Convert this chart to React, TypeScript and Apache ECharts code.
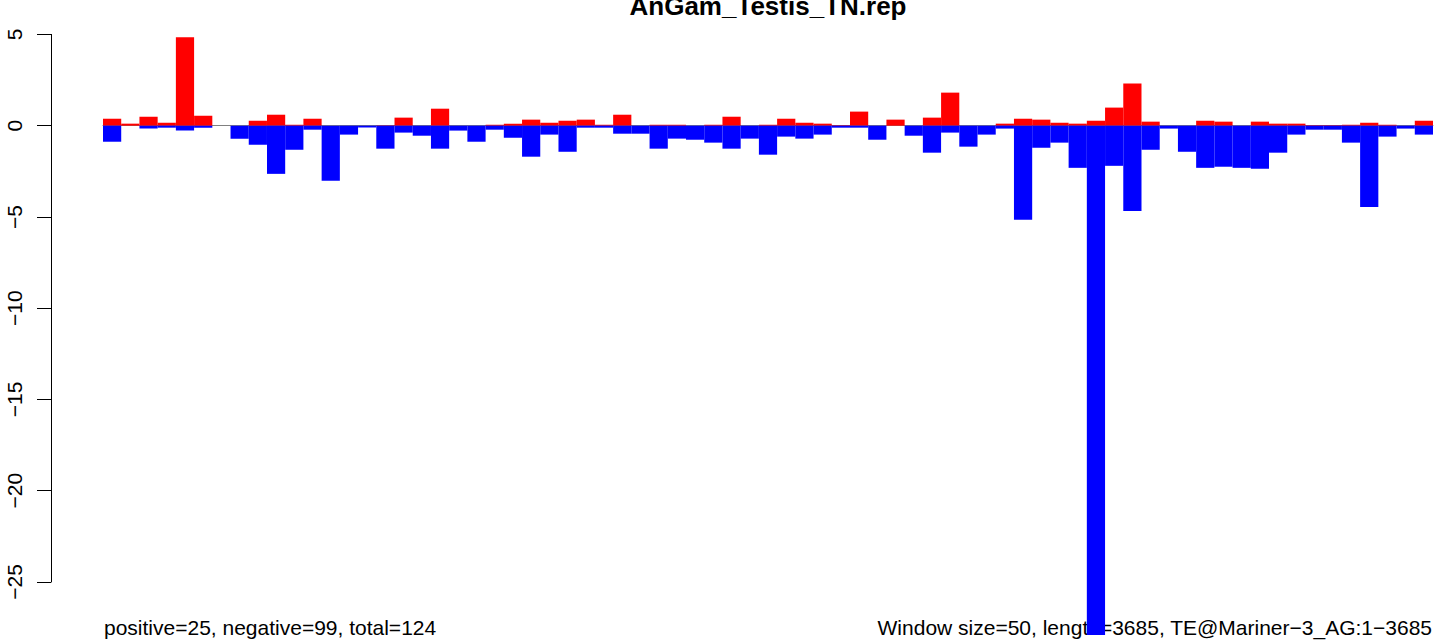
import React, { useEffect, useRef } from "react";
import * as echarts from "echarts";

const TITLE = "AnGam_Testis_TN.rep";
const FOOT_LEFT = "positive=25, negative=99, total=124";
const FOOT_RIGHT = "Window size=50, length=3685, TE@Mariner\u22123_AG:1\u22123685";

const WINDOW_SIZE = 50;
const SEQ_LENGTH = 3685;
const windowStarts: string[] = [];
for (let s = 1; s + WINDOW_SIZE - 1 <= SEQ_LENGTH; s += WINDOW_SIZE) windowStarts.push(String(s));

const positiveValues = [
  0.38, 0.11, 0.49, 0.16, 4.85, 0.55, 0, 0, 0.27, 0.6,
  0.05, 0.38, 0, 0, 0, 0.02, 0.44, 0, 0.93, 0,
  0, 0.05, 0.11, 0.33, 0.16, 0.27, 0.33, 0.05, 0.6, 0,
  0.05, 0.05, 0, 0.05, 0.49, 0, 0.05, 0.38, 0.16, 0.11,
  0.03, 0.77, 0, 0.33, 0, 0.44, 1.81, 0, 0, 0.11,
  0.38, 0.33, 0.16, 0.11, 0.27, 0.99, 2.31, 0.22, 0, 0,
  0.27, 0.22, 0, 0.22, 0.11, 0.11, 0.03, 0.03, 0.05, 0.16,
  0.05, 0, 0.27,
];

const negativeValues = [
  -0.88, 0, -0.16, -0.11, -0.27, -0.11, 0, -0.71, -1.04, -2.64,
  -1.32, -0.22, -3.02, -0.49, -0.1, -1.26, -0.38, -0.55, -1.26, -0.27,
  -0.88, -0.22, -0.66, -1.7, -0.49, -1.43, -0.11, -0.11, -0.44, -0.44,
  -1.26, -0.71, -0.77, -0.93, -1.26, -0.71, -1.59, -0.6, -0.71, -0.49,
  -0.11, -0.11, -0.77, 0, -0.55, -1.48, -0.38, -1.15, -0.49, -0.16,
  -5.16, -1.21, -0.93, -2.31, -27.9, -2.2, -4.67, -1.32, -0.16, -1.43,
  -2.31, -2.25, -2.31, -2.36, -1.48, -0.49, -0.22, -0.22, -0.93, -4.45,
  -0.6, -0.16, -0.49,
];

const FONT = '"Liberation Sans", Arial, Helvetica, sans-serif';

export default function App() {
  const ref = useRef<HTMLDivElement>(null);
  useEffect(() => {
    if (!ref.current) return;
    const chart = echarts.init(ref.current, undefined, { renderer: "svg" });
    chart.setOption({
      animation: false,
      backgroundColor: "#ffffff",
      textStyle: { fontFamily: FONT },
      grid: { left: 103, width: 1330, top: 34.4, height: 547.6, containLabel: false },
      xAxis: {
        type: "category",
        data: windowStarts,
        boundaryGap: true,
        axisLine: { show: true, onZero: true, lineStyle: { color: "#808080", width: 1 } },
        axisTick: { show: false },
        axisLabel: { show: false },
        splitLine: { show: false },
      },
      yAxis: {
        type: "value",
        min: -25,
        max: 5,
        interval: 5,
        position: "left",
        offset: 52,
        axisLine: { show: true, lineStyle: { color: "#000", width: 1 } },
        axisTick: { show: true, length: 14, lineStyle: { color: "#000", width: 1 } },
        axisLabel: {
          rotate: 90,
          margin: 26,
          fontSize: 21,
          lineHeight: 21,
          color: "#000",
          fontFamily: FONT,
          formatter: (v: number) => String(v).replace("-", "\u2212"),
        },
        splitLine: { show: false },
      },
      series: [
        {
          name: "positive",
          type: "bar",
          data: positiveValues,
          barWidth: "100%",
          barGap: "-100%",
          barCategoryGap: "0%",
          clip: false,
          itemStyle: { color: "#ff0000" },
          z: 2,
        },
        {
          name: "negative",
          type: "bar",
          data: negativeValues,
          barWidth: "100%",
          barGap: "-100%",
          barCategoryGap: "0%",
          clip: false,
          itemStyle: { color: "#0000ff" },
          z: 3,
        },
      ],
      graphic: [
        {
          type: "text",
          x: 768,
          y: 5.5,
          z: 0,
          style: {
            text: TITLE,
            fontSize: 26,
            fontWeight: "bold",
            fontFamily: FONT,
            fill: "#000",
            align: "center",
            textAlign: "center",
            verticalAlign: "middle",
            textVerticalAlign: "middle",
          },
        },
        {
          type: "text",
          x: 104,
          y: 627.4,
          z: 0,
          style: {
            text: FOOT_LEFT,
            fontSize: 21,
            fontFamily: FONT,
            fill: "#000",
            align: "left",
            textAlign: "left",
            verticalAlign: "middle",
            textVerticalAlign: "middle",
          },
        },
        {
          type: "text",
          x: 1432,
          y: 627.4,
          z: 0,
          style: {
            text: FOOT_RIGHT,
            fontSize: 21,
            fontFamily: FONT,
            fill: "#000",
            align: "right",
            textAlign: "right",
            verticalAlign: "middle",
            textVerticalAlign: "middle",
          },
        },
      ],
    });
    return () => chart.dispose();
  }, []);
  return (
    <div
      ref={ref}
      style={{ position: "fixed", left: 0, top: 0, width: 1441, height: 641 }}
    />
  );
}
